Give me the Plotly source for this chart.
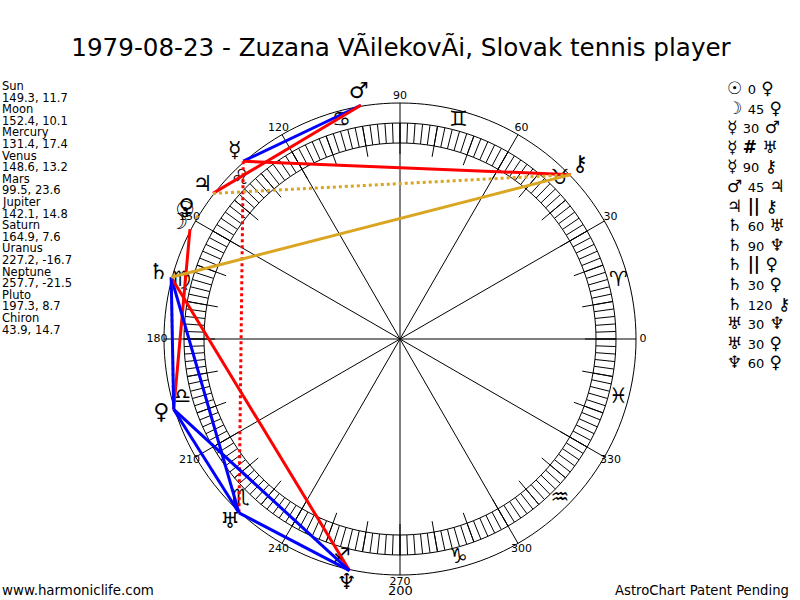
import plotly.graph_objects as go

FONT = "DejaVu Sans"

# planets: name, glyph, longitude, latitude
planet_names = ["Sun", "Moon", "Mercury", "Venus", "Mars", "Jupiter", "Saturn",
                "Uranus", "Neptune", "Pluto", "Chiron"]
planet_glyphs = ["☉", "☽", "☿", "♀", "♂", "♃", "♄", "♅", "♆", "♀", "⚷"]
planet_lon = [149.3, 152.4, 131.4, 148.6, 99.5, 142.1, 164.9, 227.2, 257.7, 197.3, 43.9]
planet_lat = [11.7, 10.1, 17.4, 13.2, 23.6, 14.8, 7.6, -16.7, -21.5, 8.7, 14.7]

# aspects in the order of the list on the right
aspect_from = ["Sun", "Moon", "Mercury", "Mercury", "Mercury", "Mars", "Jupiter", "Saturn",
               "Saturn", "Saturn", "Saturn", "Saturn", "Uranus", "Uranus", "Neptune"]
aspect_kind = ["0", "45", "30", "#", "90", "45", "||", "60",
               "90", "||", "30", "120", "30", "30", "60"]
aspect_to = ["Venus", "Pluto", "Mars", "Uranus", "Chiron", "Jupiter", "Chiron", "Uranus",
             "Neptune", "Pluto", "Pluto", "Chiron", "Neptune", "Pluto", "Pluto"]

sign_glyphs = ["♈", "♉", "♊", "♋", "♌", "♍", "♎", "♏", "♐", "♑", "♒", "♓"]
degree_labels = [0, 30, 60, 90, 120, 150, 180, 210, 240, 270, 300, 330]

ASPECT_STYLE = {
    "0": ("#daa520", "solid"),
    "30": ("#0000ff", "solid"),
    "60": ("#0000ff", "solid"),
    "45": ("#ff0000", "solid"),
    "90": ("#ff0000", "solid"),
    "120": ("#daa520", "solid"),
    "||": ("#daa520", "dot"),
    "#": ("#ff0000", "dot"),
}

OUTER_R = 236
RING_IN = 196
RING_OUT = 216
TICK_IN = 185
GLYPH_R = 250
SIGN_R = 226
LABEL_R = 243
MAX_R = 261

lon_of = dict(zip(planet_names, planet_lon))
glyph_of = dict(zip(planet_names, planet_glyphs))


def thin_line(theta, r):
    return go.Scatterpolar(theta=theta, r=r, mode="lines", hoverinfo="skip",
                           line=dict(color="black", width=1), cliponaxis=False)


def text_marks(theta, r, text, size):
    return go.Scatterpolar(theta=theta, r=r, text=text, mode="text", hoverinfo="skip",
                           textposition="middle center", cliponaxis=False,
                           textfont=dict(family=FONT, size=size, color="black"))


def segments(angles, r0, r1):
    theta, r = [], []
    for a in angles:
        theta += [a, a, None]
        r += [r0, r1, None]
    return theta, r


fig = go.Figure()

circle = list(range(0, 361, 2))
for radius in [OUTER_R, RING_OUT, RING_IN]:
    fig.add_trace(thin_line(circle, [radius] * len(circle)))

# ring ticks every 2 deg, long ones every 10, spokes every 30
fig.add_trace(thin_line(*segments(range(0, 360, 2), RING_IN, RING_OUT)))
fig.add_trace(thin_line(*segments(range(0, 360, 10), TICK_IN, RING_OUT)))
fig.add_trace(thin_line(*segments(degree_labels, 0, OUTER_R)))

fig.add_trace(text_marks(degree_labels, [LABEL_R] * 12, [str(d) for d in degree_labels], 11))
fig.add_trace(text_marks([15 + 30 * i for i in range(12)], [SIGN_R] * 12, sign_glyphs, 21))

for start, kind, end in zip(aspect_from, aspect_kind, aspect_to):
    color, dash = ASPECT_STYLE[kind]
    fig.add_trace(go.Scatterpolar(theta=[lon_of[start], lon_of[end]], r=[OUTER_R + 1] * 2,
                                  mode="lines", hoverinfo="skip", cliponaxis=False,
                                  line=dict(color=color, width=3, dash=dash)))

fig.add_trace(text_marks(planet_lon, [GLYPH_R] * len(planet_lon), planet_glyphs, 22))

annotations = []


def note(x, y, text, size, anchor="left"):
    annotations.append(dict(xref="paper", yref="paper", x=x / 800, y=1 - y / 600, text=text,
                            showarrow=False, xanchor=anchor, yanchor="middle",
                            font=dict(family=FONT, size=size, color="black")))


# name / position list on the left
for i, name in enumerate(planet_names):
    note(0, 86 + 23.2 * i, name, 11.5)
    note(0, 97.6 + 23.2 * i, f"{planet_lon[i]}, {planet_lat[i]}", 11.5)

# aspect list on the right
for i, (start, kind, end) in enumerate(zip(aspect_from, aspect_kind, aspect_to)):
    if kind in ("#", "||"):
        mid = f"<b>{kind}</b>"
    else:
        mid = f'<span style="font-size:13px">{kind}</span>'
    note(725, 88 + 19.6 * i, f"{glyph_of[start]} {mid} {glyph_of[end]}", 17)

note(0, 590, "www.harmoniclife.com", 13.4)
note(791, 590, "AstroChart Patent Pending", 13.2, anchor="right")
note(400, 590, "200", 13, anchor="center")

fig.update_layout(
    width=800,
    height=600,
    margin=dict(l=0, r=0, t=0, b=0),
    paper_bgcolor="white",
    showlegend=False,
    title=dict(text="1979-08-23 - Zuzana VÃilekovÃi, Slovak tennis player", x=401 / 800,
               xanchor="center", y=1 - 47 / 600, yanchor="middle",
               font=dict(family=FONT, size=24.6, color="black")),
    polar=dict(
        domain=dict(x=[139 / 800, 661 / 800], y=[0, 522 / 600]),
        bgcolor="white",
        radialaxis=dict(range=[0, MAX_R], visible=False),
        angularaxis=dict(visible=False, rotation=0, direction="counterclockwise"),
    ),
    annotations=annotations,
)

# the page's default body margin would shift the whole chart by 8px
fig.write_html("out.html", config={"displayModeBar": False},
               post_script="document.body.style.margin = '0';")
